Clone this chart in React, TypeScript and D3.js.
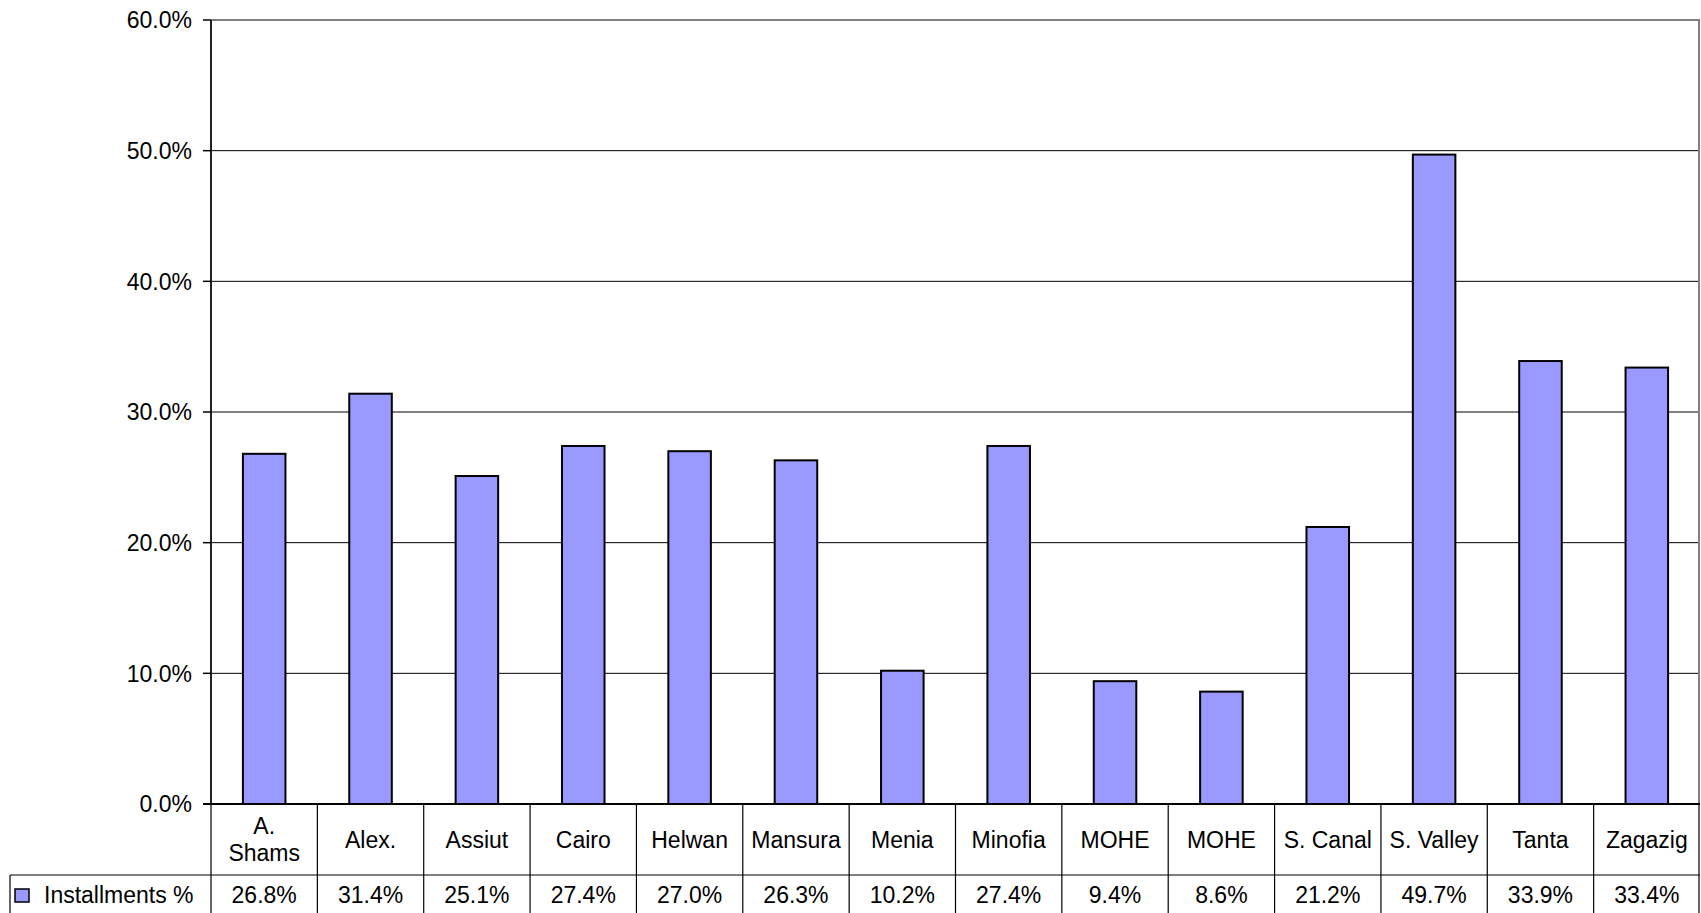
import React from 'react';
import * as d3 from 'd3';

const categories = ['A.\nShams', 'Alex.', 'Assiut', 'Cairo', 'Helwan', 'Mansura', 'Menia', 'Minofia', 'MOHE', 'MOHE', 'S. Canal', 'S. Valley', 'Tanta', 'Zagazig'];
const installments = [26.8, 31.4, 25.1, 27.4, 27.0, 26.3, 10.2, 27.4, 9.4, 8.6, 21.2, 49.7, 33.9, 33.4];
const yTicks = [0, 10, 20, 30, 40, 50, 60];
const seriesName = 'Installments %';

const W = 1701;
const H = 913;
const plot = { left: 211, right: 1700, top: 20, bottom: 804 };
const catRowBottom = 875;
const legendLeft = 10;
const font = '"Liberation Sans", Arial, sans-serif';
const fs = 23;
const barFill = '#9999FF';

export default function App() {
  const x = d3.scaleBand<number>()
    .domain(d3.range(categories.length))
    .range([plot.left, plot.right])
    .padding(0);

  const y = d3.scaleLinear().domain([0, 60]).range([plot.bottom, plot.top]);

  // gap width 150% -> bar is 1/2.5 of the category band
  const barW = x.bandwidth() / 2.5;

  return (
    <div style={{ position: 'absolute', left: 0, top: 0 }}>
      <svg width={W} height={H} style={{ display: 'block', background: '#fff' }} fontFamily={font}>
        {/* gridlines */}
        {yTicks.filter(t => t > 0 && t < 60).map(t => (
          <line key={t} x1={plot.left} x2={plot.right} y1={y(t)} y2={y(t)} stroke="#000" strokeWidth={1} />
        ))}
        {/* plot border top/right */}
        <line x1={plot.left} x2={plot.right} y1={y(60)} y2={y(60)} stroke="#808080" strokeWidth={2} />
        <line x1={plot.right - 1} x2={plot.right - 1} y1={plot.top} y2={plot.bottom} stroke="#808080" strokeWidth={2} />

        {/* bars */}
        {installments.map((v, i) => (
          <rect
            key={i}
            x={(x(i) as number) + (x.bandwidth() - barW) / 2}
            y={y(v)}
            width={barW}
            height={y(0) - y(v)}
            fill={barFill}
            stroke="#000"
            strokeWidth={2}
          />
        ))}

        {/* y axis */}
        <line x1={plot.left} x2={plot.left} y1={plot.top} y2={plot.bottom} stroke="#222" strokeWidth={2} />
        {yTicks.map(t => (
          <g key={t}>
            <line x1={plot.left - 8} x2={plot.left} y1={y(t)} y2={y(t)} stroke="#000" strokeWidth={1.5} />
            <text x={plot.left - 19} y={y(t)} dy="0.36em" textAnchor="end" fontSize={fs} fill="#000">
              {d3.format('.1f')(t)}%
            </text>
          </g>
        ))}

        {/* data table */}
        <line x1={plot.left - 8} x2={plot.right} y1={plot.bottom} y2={plot.bottom} stroke="#000" strokeWidth={2} />
        <line x1={legendLeft} x2={plot.right} y1={catRowBottom} y2={catRowBottom} stroke="#000" strokeWidth={1.2} />
        <line x1={legendLeft} x2={legendLeft} y1={catRowBottom} y2={H} stroke="#000" strokeWidth={1.2} />
        {d3.range(categories.length + 1).map(i => {
          const xx = i === categories.length ? plot.right - 1 : (x(i) as number);
          return <line key={i} x1={xx} x2={xx} y1={plot.bottom} y2={H} stroke="#000" strokeWidth={1.2} />;
        })}

        {categories.map((c, i) => {
          const cx = (x(i) as number) + x.bandwidth() / 2;
          const lines = c.split('\n');
          const mid = (plot.bottom + catRowBottom) / 2;
          const lh = 27;
          return (
            <text key={i} x={cx} textAnchor="middle" fontSize={fs} fill="#000">
              {lines.map((l, j) => (
                <tspan key={j} x={cx} y={mid + (j - (lines.length - 1) / 2) * lh} dy="0.36em">{l}</tspan>
              ))}
            </text>
          );
        })}

        {installments.map((v, i) => (
          <text key={i} x={(x(i) as number) + x.bandwidth() / 2} y={903} textAnchor="middle" fontSize={fs} fill="#000">
            {d3.format('.1f')(v)}%
          </text>
        ))}

        {/* legend key */}
        <rect x={15} y={889} width={14} height={13} fill={barFill} stroke="#000" strokeWidth={1.5} />
        <text x={44} y={903} fontSize={fs} fill="#000">{seriesName}</text>
      </svg>
    </div>
  );
}
